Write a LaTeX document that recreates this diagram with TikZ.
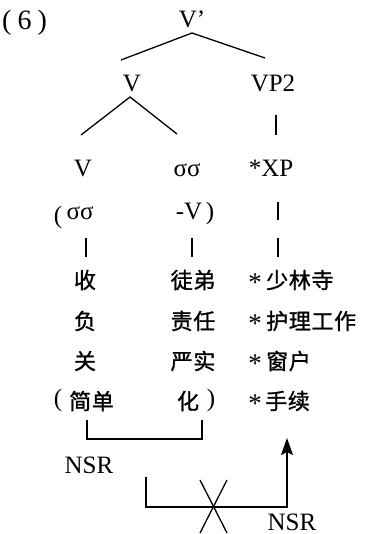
\documentclass[tikz,border=0pt]{standalone}
\usepackage{fontspec}
\setmainfont{Liberation Serif}
\newfontfamily\cjk[LetterSpace=3,FakeBold=1.2]{Noto Sans CJK SC}
\usetikzlibrary{arrows.meta}
\tikzset{
  lat/.style={font=\fontsize{25}{29}\selectfont, inner sep=0pt, anchor=base},
  zh/.style={font=\cjk\fontsize{22}{26}\selectfont, inner sep=0pt},
  star/.style={font=\fontsize{27}{30}\selectfont, inner sep=0pt, anchor=center},
  ln/.style={line width=1.3pt},
}
\begin{document}
\begin{tikzpicture}[x=1pt,y=-1pt]
\useasboundingbox (0,0) rectangle (367,534);
% labels
\node[lat, anchor=base west, font=\fontsize{28}{31}\selectfont] (num) at (2,30) {(\hspace{6pt}6\hspace{6pt})};
\node[lat] (vbar) at (192,28) {V’};
\node[lat] (v1) at (132,92) {V};
\node[lat] (vp2) at (273,92) {VP2};
\node[lat] (v2) at (83,177) {V};
\node[lat] (ss1) at (187,177) {σσ};
\node[lat] (xp) at (271,177) {*XP};
\node[lat, anchor=center] (lp1) at (58,217) {(};
\node[lat] (ss2) at (80,220) {σσ};
\node[lat] (mv) at (189,220) {-V};
\node[lat] (rp1) at (210,220) {)};
% tree lines
\coordinate (t0) at (192,33);
\coordinate (t1) at (121,60);
\coordinate (t2) at (265,58);
\coordinate (t3) at (130,97);
\coordinate (t4) at (81,135);
\coordinate (t5) at (177,134);
\coordinate (t6) at (276,115);
\coordinate (t7) at (276,135);
\draw[ln] (t1) -- (t0) -- (t2);
\draw[ln] (t4) -- (t3) -- (t5);
\draw[ln] (t6) -- (t7);
\coordinate (b1) at (278,202);
\coordinate (b2) at (278,220);
\draw[ln] (b1) -- (b2);
\foreach \x/\n in {86/l,192/m,278/r}{
  \coordinate (c\n1) at (\x,238);
  \coordinate (c\n2) at (\x,257);
  \draw[ln] (c\n1) -- (c\n2);
}
% chinese rows
\node[zh] (a1) at (85,280) {收};
\node[zh] (a2) at (85,321) {负};
\node[zh] (a3) at (85,361) {关};
\node[zh] (m1) at (193,280) {徒弟};
\node[zh] (m2) at (193,321) {责任};
\node[zh] (m3) at (193,361) {严实};
\foreach \y/\n in {280/1,321/2,361/3,401/4}{
  \node[star] (s\n) at (255,\y+3) {*};
}
\node[zh, anchor=west] (r1) at (266,280) {少林寺};
\node[zh, anchor=west] (r2) at (266,321) {护理工作};
\node[zh, anchor=west] (r3) at (266,361) {窗户};
\node[zh, anchor=west] (r4) at (265,401) {手续};
\node[lat, anchor=center] (lp2) at (58,400) {(};
\node[zh, anchor=west] (jd) at (69,401) {简单};
\node[zh] (hua) at (188,401) {化};
\node[lat, anchor=center] (rp2) at (211,400) {)};
% brackets
\coordinate (k1) at (87,420);
\coordinate (k2) at (87,439);
\coordinate (k3) at (202,439);
\coordinate (k4) at (202,420);
\draw[ln] (k1) -- (k2) -- (k3) -- (k4);
\node[lat] (nsr1) at (89,473) {NSR};
\coordinate (p1) at (146,477);
\coordinate (p2) at (146,507);
\coordinate (p3) at (287,507);
\coordinate (p4) at (287,438);
\draw[ln, -{Stealth[length=17pt,width=12pt,inset=3pt]}] (p1) -- (p2) -- (p3) -- (p4);
\coordinate (x1) at (200,480);
\coordinate (x2) at (227,533);
\coordinate (x3) at (227,480);
\coordinate (x4) at (200,533);
\draw[ln] (x1) -- (x2);
\draw[ln] (x3) -- (x4);
\node[lat] (nsr2) at (292,530) {NSR};
\end{tikzpicture}
\end{document}
